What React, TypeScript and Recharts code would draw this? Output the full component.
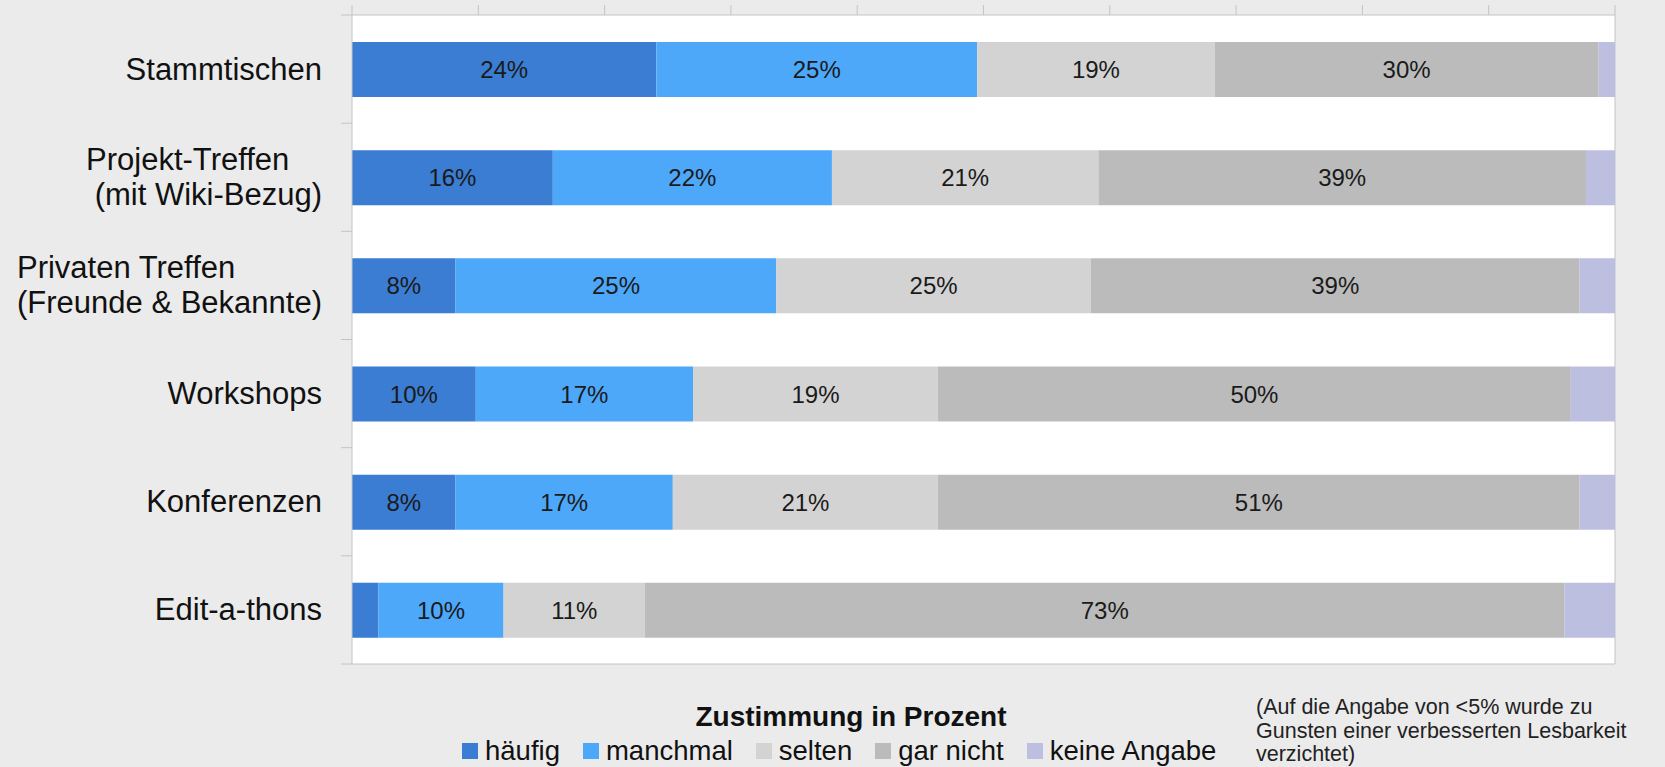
import React from 'react';
import {
  BarChart,
  Bar,
  XAxis,
  YAxis,
  CartesianGrid,
  Legend,
  LabelList,
} from 'recharts';

// Rows (top to bottom) and the share per answer, in percent
const categories = [
  'Stammtischen',
  'Projekt-Treffen\n (mit Wiki-Bezug)',
  'Privaten Treffen\n(Freunde & Bekannte)',
  'Workshops',
  'Konferenzen',
  'Edit-a-thons',
];
const haeufig = [24.1, 15.9, 8.2, 9.8, 8.2, 2.1];
const manchmal = [25.4, 22.1, 25.4, 17.2, 17.2, 9.9];
const selten = [18.8, 21.1, 24.9, 19.4, 21.0, 11.2];
const garNicht = [30.4, 38.6, 38.7, 50.1, 50.8, 72.8];
const keineAngabe = [1.3, 2.3, 2.8, 3.5, 2.8, 4.0];

const xTicks = [0, 10, 20, 30, 40, 50, 60, 70, 80, 90, 100];

const seriesInfo = [
  { key: 'haeufig', name: 'häufig', color: '#3a7dd3' },
  { key: 'manchmal', name: 'manchmal', color: '#4da8fa' },
  { key: 'selten', name: 'selten', color: '#d3d3d3' },
  { key: 'garNicht', name: 'gar nicht', color: '#bbbbbb' },
  { key: 'keineAngabe', name: 'keine Angabe', color: '#bdbfe0' },
];

const legendTitle = 'Zustimmung in Prozent';
const noteLines = [
  '(Auf die Angabe von <5% wurde zu',
  'Gunsten einer verbesserten Lesbarkeit',
  'verzichtet)',
];

const FONT = '"Liberation Sans", Arial, Helvetica, sans-serif';
const AXIS_COLOR = '#c4c4c4';
const WIDTH = 1665;
const HEIGHT = 767;
const TICK_MARGIN = 30;

const data = categories.map((name, i) => ({
  name,
  haeufig: haeufig[i],
  manchmal: manchmal[i],
  selten: selten[i],
  garNicht: garNicht[i],
  keineAngabe: keineAngabe[i],
}));

// only show labels for segments of 5% and more
const pct = (v: any) => (Number(v) >= 5 ? `${Math.round(Number(v))}%` : '');

function CategoryTick(props: any) {
  const { x, y, payload, index, visibleTicksCount } = props;
  const axisX = x + TICK_MARGIN;
  const half = payload.offset || 54;
  const lines = String(payload.value).split('\n');
  const isLast = index === (visibleTicksCount ?? categories.length) - 1;
  return (
    <g>
      <line x1={axisX - 11} x2={axisX} y1={y - half} y2={y - half} stroke={AXIS_COLOR} />
      {isLast && (
        <line x1={axisX - 11} x2={axisX} y1={y + half} y2={y + half} stroke={AXIS_COLOR} />
      )}
      <foreignObject x={0} y={y - 50} width={x} height={100}>
        <div
          style={{
            width: '100%',
            height: '100%',
            display: 'flex',
            justifyContent: 'flex-end',
            alignItems: 'center',
          }}
        >
          <div
            style={{
              textAlign: 'left',
              whiteSpace: 'pre',
              fontFamily: FONT,
              fontSize: 31,
              lineHeight: '35px',
              color: '#111',
            }}
          >
            {lines.map((l, i) => (
              <div key={i}>{l}</div>
            ))}
          </div>
        </div>
      </foreignObject>
    </g>
  );
}

function LegendContent() {
  return (
    <div style={{ position: 'relative', width: WIDTH, height: 103, fontFamily: FONT, color: '#111' }}>
      <div
        style={{
          position: 'absolute',
          left: 851 - 250,
          width: 500,
          top: 38,
          textAlign: 'center',
          fontWeight: 'bold',
          fontSize: 28,
          lineHeight: '30px',
        }}
      >
        {legendTitle}
      </div>
      <div
        style={{
          position: 'absolute',
          left: 462,
          top: 71,
          display: 'flex',
          alignItems: 'center',
          fontSize: 27.5,
          lineHeight: '32px',
          whiteSpace: 'nowrap',
        }}
      >
        {seriesInfo.map((s) => (
          <div key={s.key} style={{ display: 'flex', alignItems: 'center', marginRight: 23 }}>
            <span
              style={{
                display: 'inline-block',
                width: 16,
                height: 16,
                background: s.color,
                marginRight: 7,
              }}
            />
            <span>{s.name}</span>
          </div>
        ))}
      </div>
      <div
        style={{
          position: 'absolute',
          left: 1256,
          top: 32,
          fontSize: 21.5,
          lineHeight: '23.5px',
          whiteSpace: 'nowrap',
          color: '#222',
        }}
      >
        {noteLines.map((l) => (
          <div key={l}>{l}</div>
        ))}
      </div>
    </div>
  );
}

export default function App() {
  return (
    <div style={{ width: WIDTH, height: HEIGHT, background: '#ebebeb', position: 'relative' }}>
      <style>{'body{margin:0;}'}</style>
      <BarChart
        width={WIDTH}
        height={HEIGHT}
        data={data}
        layout="vertical"
        margin={{ top: 0, right: 50, left: 0, bottom: 0 }}
      >
        <CartesianGrid
          fill="#ffffff"
          fillOpacity={1}
          stroke={AXIS_COLOR}
          horizontalCoordinatesGenerator={({ offset }: any) => [offset.top + offset.height]}
          verticalCoordinatesGenerator={({ offset }: any) => [offset.left + offset.width]}
        />
        <XAxis
          type="number"
          orientation="top"
          domain={[0, 100]}
          ticks={xTicks}
          allowDataOverflow
          height={15}
          tickSize={10}
          tickFormatter={() => ''}
          stroke={AXIS_COLOR}
          tickLine={{ stroke: AXIS_COLOR }}
          axisLine={{ stroke: AXIS_COLOR }}
        />
        <YAxis
          type="category"
          dataKey="name"
          width={352}
          tickSize={0}
          tickMargin={TICK_MARGIN}
          tickLine={false}
          axisLine={{ stroke: AXIS_COLOR }}
          tick={<CategoryTick />}
          interval={0}
        />
        <Legend
          verticalAlign="bottom"
          wrapperStyle={{ left: 0, bottom: 0, width: WIDTH }}
          content={<LegendContent />}
        />
        {seriesInfo.map((s) => (
          <Bar
            key={s.key}
            dataKey={s.key}
            name={s.name}
            stackId="a"
            fill={s.color}
            barSize={55}
            isAnimationActive={false}
          >
            <LabelList
              dataKey={s.key}
              position="center"
              formatter={pct}
              fill="#1a1a1a"
              fontSize={24}
              fontFamily={FONT}
            />
          </Bar>
        ))}
      </BarChart>
    </div>
  );
}
